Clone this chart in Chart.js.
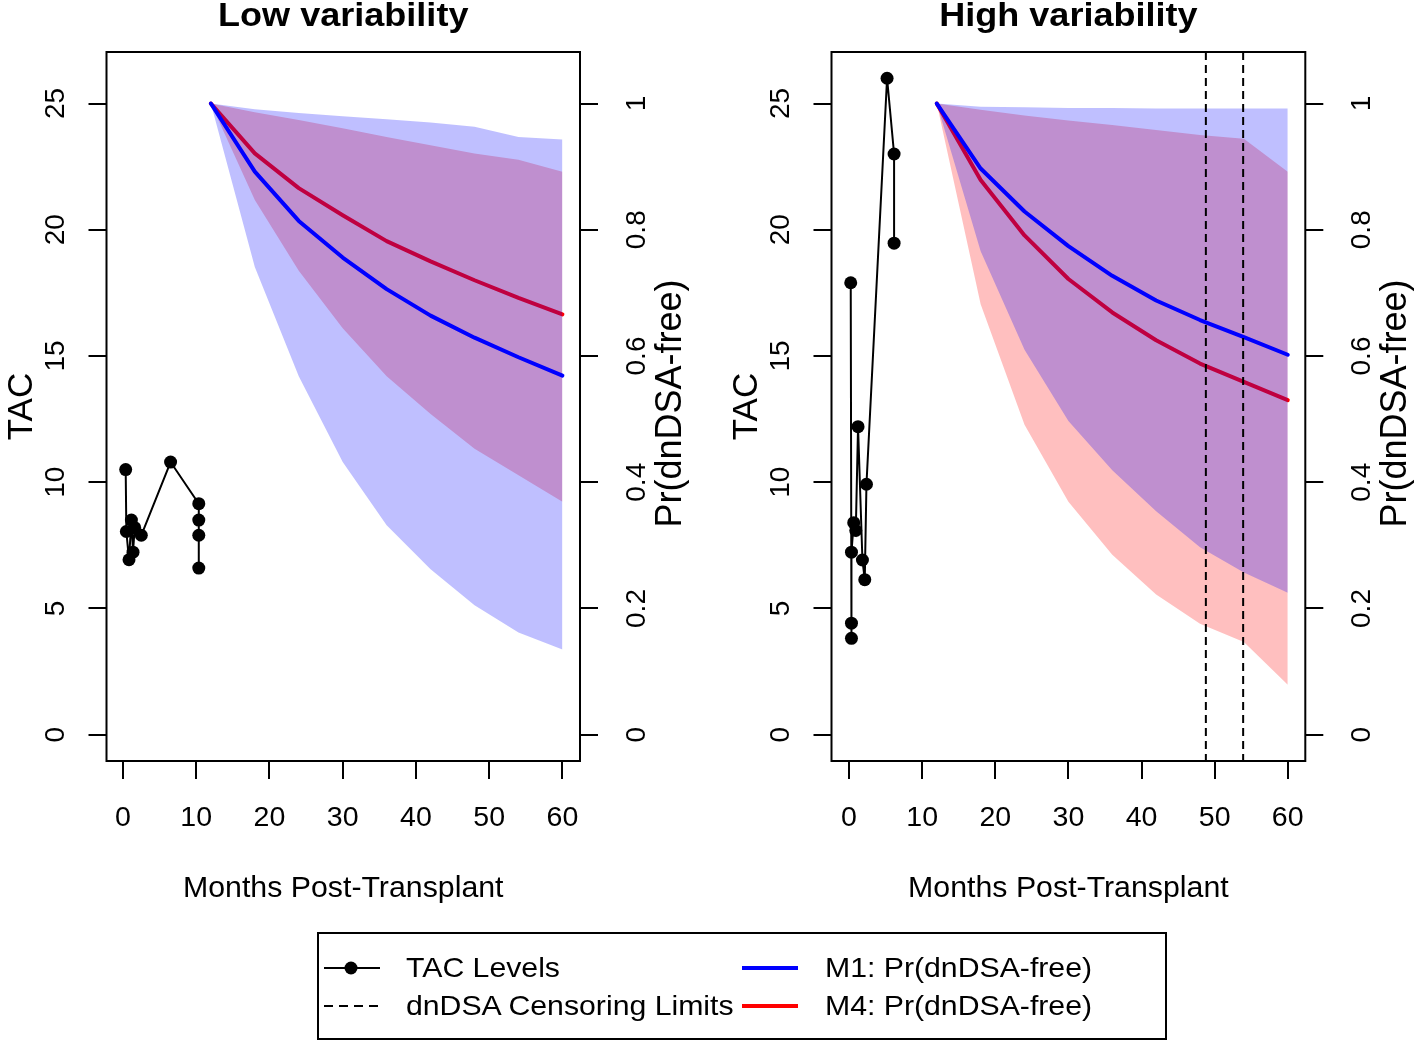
<!DOCTYPE html>
<html><head><meta charset="utf-8">
<script src="https://cdn.jsdelivr.net/npm/chart.js@4.4.0/dist/chart.umd.min.js"></script>
<style>
html,body{margin:0;padding:0;background:#fff;overflow:hidden;width:1415px;height:1043px;}
#c1{position:absolute;left:0;top:0;}
#c2{position:absolute;left:725px;top:0;}
#leg{position:absolute;left:0;top:0;}
</style></head><body>
<canvas id="c1" width="725" height="925"></canvas>
<canvas id="c2" width="690" height="925"></canvas>
<svg id="leg" width="1415" height="1043" font-family="'Liberation Sans', Arial, sans-serif" font-size="28">
  <rect x="318" y="933" width="848" height="106" fill="none" stroke="#000" stroke-width="2"/>
  <line x1="324" y1="968" x2="380" y2="968" stroke="#000" stroke-width="2"/>
  <circle cx="351" cy="968" r="6.5" fill="#000"/>
  <text transform="translate(406,977) scale(1.08,1)">TAC Levels</text>
  <line x1="324" y1="1006" x2="380" y2="1006" stroke="#000" stroke-width="2" stroke-dasharray="9,6"/>
  <text transform="translate(406,1015) scale(1.08,1)">dnDSA Censoring Limits</text>
  <line x1="742" y1="968" x2="798" y2="968" stroke="#0000ff" stroke-width="4"/>
  <text transform="translate(825,977) scale(1.08,1)">M1: Pr(dnDSA-free)</text>
  <line x1="742" y1="1006" x2="798" y2="1006" stroke="#ff0000" stroke-width="4"/>
  <text transform="translate(825,1015) scale(1.08,1)">M4: Pr(dnDSA-free)</text>
</svg>
<script>
// ---------- data ----------
const months = [12, 18, 24, 30, 36, 42, 48, 54, 60];

const lowTacMonths = [0.37, 0.46, 0.82, 1.15, 1.37, 1.6, 2.5, 6.5, 10.35, 10.35, 10.35, 10.35];
const lowTacValues = [10.5, 8.05, 6.93, 8.5, 7.23, 8.2, 7.9, 10.8, 9.15, 8.5, 7.9, 6.6];
const lowM1      = [1, 0.892, 0.814, 0.756, 0.706, 0.664, 0.629, 0.598, 0.569];
const lowM1Upper = [1, 0.991, 0.985, 0.980, 0.975, 0.970, 0.963, 0.947, 0.943];
const lowM1Lower = [1, 0.741, 0.568, 0.432, 0.332, 0.262, 0.205, 0.162, 0.135];
const lowM4      = [1, 0.921, 0.866, 0.823, 0.782, 0.750, 0.720, 0.692, 0.666];
const lowM4Upper = [1, 0.986, 0.974, 0.961, 0.947, 0.934, 0.921, 0.911, 0.892];
const lowM4Lower = [1, 0.847, 0.735, 0.644, 0.568, 0.508, 0.453, 0.411, 0.369];
const lowCensor  = [];

const highTacMonths = [0.23, 0.33, 0.33, 0.33, 0.64, 0.92, 1.23, 1.83, 2.15, 2.38, 5.2, 6.16, 6.16];
const highTacValues = [17.9, 3.82, 4.42, 7.23, 8.4, 8.09, 12.2, 6.92, 6.14, 9.92, 26.0, 23.0, 19.47];
const highM1      = [1, 0.897, 0.829, 0.774, 0.727, 0.688, 0.657, 0.630, 0.602];
const highM1Upper = [1, 0.995, 0.994, 0.993, 0.993, 0.992, 0.992, 0.992, 0.992];
const highM1Lower = [1, 0.766, 0.610, 0.497, 0.419, 0.354, 0.297, 0.257, 0.225];
const highM4      = [1, 0.879, 0.791, 0.722, 0.669, 0.625, 0.588, 0.559, 0.530];
const highM4Upper = [1, 0.990, 0.981, 0.973, 0.966, 0.958, 0.950, 0.944, 0.892];
const highM4Lower = [1, 0.682, 0.491, 0.369, 0.285, 0.222, 0.176, 0.147, 0.079];
const highCensor  = [48.8, 53.9];

const xTicks = [0, 10, 20, 30, 40, 50, 60];
const xTickLabels = ['0', '10', '20', '30', '40', '50', '60'];
const tacTicks = [0, 5, 10, 15, 20, 25];
const tacTickLabels = ['0', '5', '10', '15', '20', '25'];
const prTicks = [0, 0.2, 0.4, 0.6, 0.8, 1];
const prTickLabels = ['0', '0.2', '0.4', '0.6', '0.8', '1'];

// ---------- drawing ----------
const FONT = "'Liberation Sans', Arial, Helvetica, sans-serif";
const BLUE = '#0000ff', RED = '#ff0000';
const BLUE_FILL = 'rgba(0,0,255,0.25)', RED_FILL = 'rgba(255,0,0,0.25)';

const pts = (xs, ys) => xs.map((x, i) => ({x: x, y: ys[i]}));

const rPlot = {
  id: 'rPlot',
  afterDatasetsDraw(chart) {
    const ctx = chart.ctx, ca = chart.chartArea, xs = chart.scales.x;
    const cens = chart.options.plugins.rPlot.censor || [];
    ctx.save();
    ctx.strokeStyle = '#000'; ctx.lineWidth = 2; ctx.setLineDash([8, 5]);
    cens.forEach(v => {
      const px = xs.getPixelForValue(v);
      ctx.beginPath(); ctx.moveTo(px, ca.top); ctx.lineTo(px, ca.bottom); ctx.stroke();
    });
    ctx.restore();
  },
  afterDraw(chart) {
    const ctx = chart.ctx, ca = chart.chartArea;
    const o = chart.options.plugins.rPlot;
    const xs = chart.scales.x, ys = chart.scales.y, y2 = chart.scales.y2;
    const cy = (ca.top + ca.bottom) / 2, cx = (ca.left + ca.right) / 2;
    ctx.save();
    ctx.strokeStyle = '#000'; ctx.lineWidth = 2;
    ctx.strokeRect(ca.left, ca.top, ca.right - ca.left, ca.bottom - ca.top);
    ctx.fillStyle = '#000';
    ctx.textAlign = 'center'; ctx.textBaseline = 'alphabetic';
    const txt = (t, x, y, sx) => { ctx.save(); ctx.translate(x, y); ctx.scale(sx, 1); ctx.fillText(t, 0, 0); ctx.restore(); };
    const rot = (t, x, y) => { ctx.save(); ctx.translate(x, y); ctx.rotate(-Math.PI / 2); ctx.fillText(t, 0, 0); ctx.restore(); };
    ctx.font = '28px ' + FONT;
    xs.ticks.forEach((t, i) => txt(xTickLabels[i], xs.getPixelForValue(t.value), ca.bottom + 65, 1.02));
    ys.ticks.forEach((t, i) => rot(tacTickLabels[i], ca.left - 43, ys.getPixelForValue(t.value)));
    y2.ticks.forEach((t, i) => rot(prTickLabels[i], ca.right + 65, y2.getPixelForValue(t.value)));
    ctx.font = 'bold 34px ' + FONT;
    txt(o.title, cx, 26, 1.06);
    ctx.font = '29px ' + FONT;
    txt('Months Post-Transplant', cx, ca.bottom + 136, 1.045);
    ctx.font = '35px ' + FONT;
    rot('TAC', ca.left - 75, cy);
    ctx.font = '36px ' + FONT;
    rot('Pr(dnDSA-free)', ca.right + 101, cy - 3);
    ctx.restore();
  }
};

function makeChart(id, canvasW, xMin, rightEdge, d) {
  const lineBase = {borderCapStyle: 'round', borderJoinStyle: 'round', pointRadius: 0, tension: 0, fill: false};
  const tickFromList = list => s => { s.ticks = list.map(v => ({value: v})); };
  return new Chart(document.getElementById(id), {
    type: 'line',
    data: {
      datasets: [
        {data: pts(d.tacM, d.tacV), yAxisID: 'y', borderColor: '#000', backgroundColor: '#000',
         borderWidth: 2, pointRadius: 6.5, pointBorderWidth: 0, fill: false, order: -1, tension: 0},
        Object.assign({}, lineBase, {data: pts(months, d.m1Lo), yAxisID: 'y2', borderWidth: 0, borderColor: 'rgba(0,0,0,0)', order: 1}),
        Object.assign({}, lineBase, {data: pts(months, d.m1Hi), yAxisID: 'y2', borderWidth: 0, borderColor: 'rgba(0,0,0,0)', backgroundColor: BLUE_FILL, fill: 1, order: 1}),
        Object.assign({}, lineBase, {data: pts(months, d.m1), yAxisID: 'y2', borderWidth: 4, borderColor: BLUE, order: 0}),
        Object.assign({}, lineBase, {data: pts(months, d.m4Lo), yAxisID: 'y2', borderWidth: 0, borderColor: 'rgba(0,0,0,0)', order: 3}),
        Object.assign({}, lineBase, {data: pts(months, d.m4Hi), yAxisID: 'y2', borderWidth: 0, borderColor: 'rgba(0,0,0,0)', backgroundColor: RED_FILL, fill: 4, order: 3}),
        Object.assign({}, lineBase, {data: pts(months, d.m4), yAxisID: 'y2', borderWidth: 4, borderColor: RED, order: 2})
      ]
    },
    options: {
      responsive: false, animation: false, devicePixelRatio: 1,
      layout: {padding: {top: 52, left: 0, right: 0, bottom: 0}},
      events: [],
      plugins: {
        legend: {display: false}, tooltip: {enabled: false}, title: {display: false},
        filler: {propagate: false},
        rPlot: {title: d.title, censor: d.censor}
      },
      scales: {
        x: {type: 'linear', position: 'bottom', min: xMin, max: 62.4,
            afterBuildTicks: tickFromList(xTicks), afterFit: s => { s.height = 925 - 761; },
            ticks: {display: false},
            grid: {drawOnChartArea: false, drawTicks: true, tickLength: 18, color: '#000', lineWidth: 2},
            border: {display: false}},
        y: {type: 'linear', position: 'left', min: -1.04, max: 27.04,
            afterBuildTicks: tickFromList(tacTicks), afterFit: s => { s.width = 106.5; },
            ticks: {display: false},
            grid: {drawOnChartArea: false, drawTicks: true, tickLength: 18, color: '#000', lineWidth: 2},
            border: {display: false}},
        y2: {type: 'linear', position: 'right', min: -1.04 / 25, max: 27.04 / 25,
            afterBuildTicks: tickFromList(prTicks), afterFit: s => { s.width = canvasW - rightEdge; },
            ticks: {display: false},
            grid: {drawOnChartArea: false, drawTicks: true, tickLength: 18, color: '#000', lineWidth: 2},
            border: {display: false}}
      }
    },
    plugins: [rPlot]
  });
}

makeChart('c1', 725, -2.25, 580, {
  title: 'Low variability', tacM: lowTacMonths, tacV: lowTacValues,
  m1: lowM1, m1Hi: lowM1Upper, m1Lo: lowM1Lower, m4: lowM4, m4Hi: lowM4Upper, m4Lo: lowM4Lower, censor: lowCensor
});
makeChart('c2', 690, -2.4, 580.3, {
  title: 'High variability', tacM: highTacMonths, tacV: highTacValues,
  m1: highM1, m1Hi: highM1Upper, m1Lo: highM1Lower, m4: highM4, m4Hi: highM4Upper, m4Lo: highM4Lower, censor: highCensor
});
</script>
</body></html>
